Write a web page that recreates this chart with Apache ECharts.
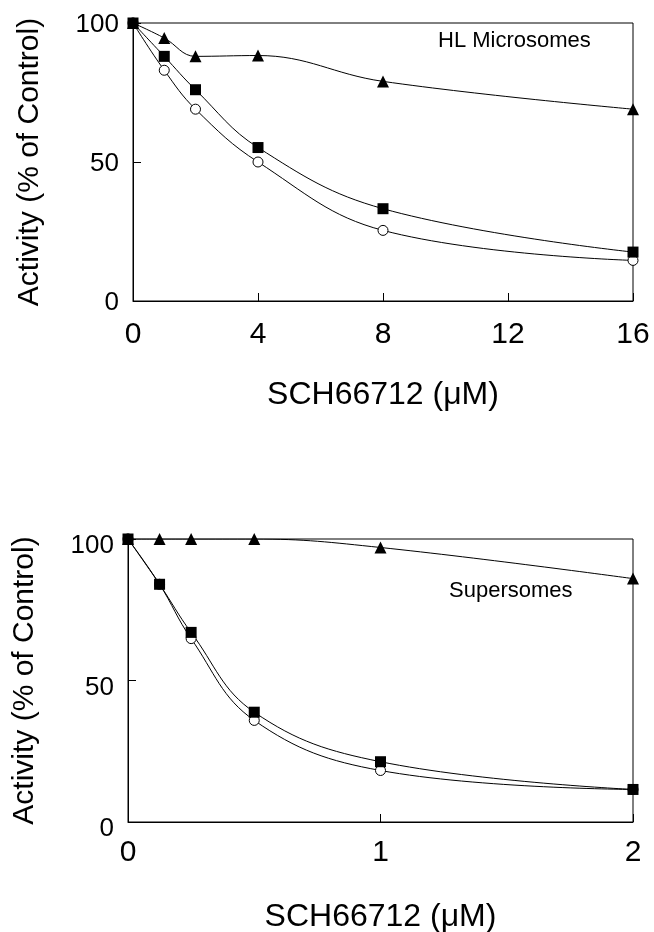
<!DOCTYPE html>
<html>
<head>
<meta charset="utf-8">
<script src="https://cdn.jsdelivr.net/npm/echarts@6/dist/echarts.min.js"></script>
<style>
  html, body { margin: 0; padding: 0; background: #fff; }
  #chart { width: 654px; height: 932px; }
</style>
</head>
<body>
<div id="chart"></div>
<script>
// HL Microsomes (top panel)
var hlDose = [0, 1, 2, 4, 8, 16];
var hlTriangle = [100, 94.6, 88, 88.3, 79, 69];
var hlSquare = [100, 88, 76, 55.2, 33.2, 17.6];
var hlCircle = [100, 83, 69, 50, 25.4, 14.6];
var hlXTicks = [0, 4, 8, 12, 16];

// Supersomes (bottom panel)
var ssDose = [0, 0.125, 0.25, 0.5, 1, 2];
var ssTriangle = [100, 100, 100, 100, 97, 86];
var ssSquare = [100, 84, 67, 38.8, 21.3, 11.5];
var ssCircle = [100, 84, 64.8, 35.9, 18.2, 11.5];
var ssXTicks = [0, 1, 2];

var yTicks = [0, 50, 100];

var FONT = 'Liberation Sans';

function pairs(xs, ys) {
    return xs.map(function(x, i) { return [x, ys[i]]; });
}

function lineSeries(idx, xs, ys, symbol, filled, size) {
    return {
        type: 'line',
        xAxisIndex: idx,
        yAxisIndex: idx,
        data: pairs(xs, ys),
        smooth: 0.4,
        symbol: symbol,
        symbolSize: size,
        showAllSymbol: true,
        lineStyle: { color: '#000', width: 1 },
        itemStyle: {
            color: filled ? '#000' : '#fff',
            borderColor: '#000',
            borderWidth: filled ? 0 : 1
        },
        z: 3,
        animation: false
    };
}

function xAxisDef(idx, ticks, labelMargin, nameGap) {
    return {
        gridIndex: idx,
        type: 'value',
        min: ticks[0],
        max: ticks[ticks.length - 1],
        interval: ticks[1] - ticks[0],
        name: 'SCH66712 (μM)',
        nameLocation: 'middle',
        nameGap: nameGap,
        nameTextStyle: { fontFamily: FONT, fontSize: 32, color: '#000' },
        axisLine: { show: true, lineStyle: { color: '#000', width: 1 } },
        axisTick: { show: true, inside: true, length: 8, lineStyle: { color: '#000' } },
        axisLabel: { fontFamily: FONT, fontSize: 30, color: '#000', margin: labelMargin },
        splitLine: { show: false }
    };
}

// labelShift: how far below its tick each y label is centred
function yAxisDef(idx, labelMargin, labelShift) {
    return {
        gridIndex: idx,
        type: 'value',
        min: yTicks[0],
        max: yTicks[yTicks.length - 1],
        interval: yTicks[1] - yTicks[0],
        name: 'Activity (% of Control)',
        nameLocation: 'middle',
        nameGap: 88,
        nameTextStyle: { fontFamily: FONT, fontSize: 30, color: '#000' },
        axisLine: { show: true, lineStyle: { color: '#000', width: 1 } },
        axisTick: { show: true, inside: true, length: 8, lineStyle: { color: '#000' } },
        axisLabel: {
            fontFamily: FONT, fontSize: 26, color: '#000', margin: labelMargin,
            verticalAlign: 'top', lineHeight: labelShift * 2
        },
        splitLine: { show: false }
    };
}

var chart = echarts.init(document.getElementById('chart'), null, { renderer: 'canvas' });

var option = {
    backgroundColor: '#fff',
    animation: false,
    grid: [
        { left: 133, top: 23, width: 500, height: 278, show: true, borderColor: '#000', borderWidth: 1, backgroundColor: 'transparent', outerBoundsMode: 'none', containLabel: false },
        { left: 128, top: 539, width: 505, height: 283, show: true, borderColor: '#000', borderWidth: 1, backgroundColor: 'transparent', outerBoundsMode: 'none', containLabel: false }
    ],
    xAxis: [
        xAxisDef(0, hlXTicks, 19, 78),
        xAxisDef(1, ssXTicks, 16, 79)
    ],
    yAxis: [
        yAxisDef(0, 14, 2),
        yAxisDef(1, 14, 7)
    ],
    graphic: [
        { type: 'text', left: 438, top: 30, style: { text: 'HL Microsomes', fontFamily: FONT, fontSize: 22, fill: '#000' } },
        { type: 'text', left: 449, top: 580, style: { text: 'Supersomes', fontFamily: FONT, fontSize: 22, fill: '#000' } }
    ],
    series: [
        lineSeries(0, hlDose, hlCircle, 'circle', false, 10),
        lineSeries(0, hlDose, hlSquare, 'rect', true, 11),
        lineSeries(0, hlDose, hlTriangle, 'triangle', true, 12),
        lineSeries(1, ssDose, ssCircle, 'circle', false, 10),
        lineSeries(1, ssDose, ssSquare, 'rect', true, 11),
        lineSeries(1, ssDose, ssTriangle, 'triangle', true, 12)
    ]
};

chart.setOption(option);
</script>
</body>
</html>
